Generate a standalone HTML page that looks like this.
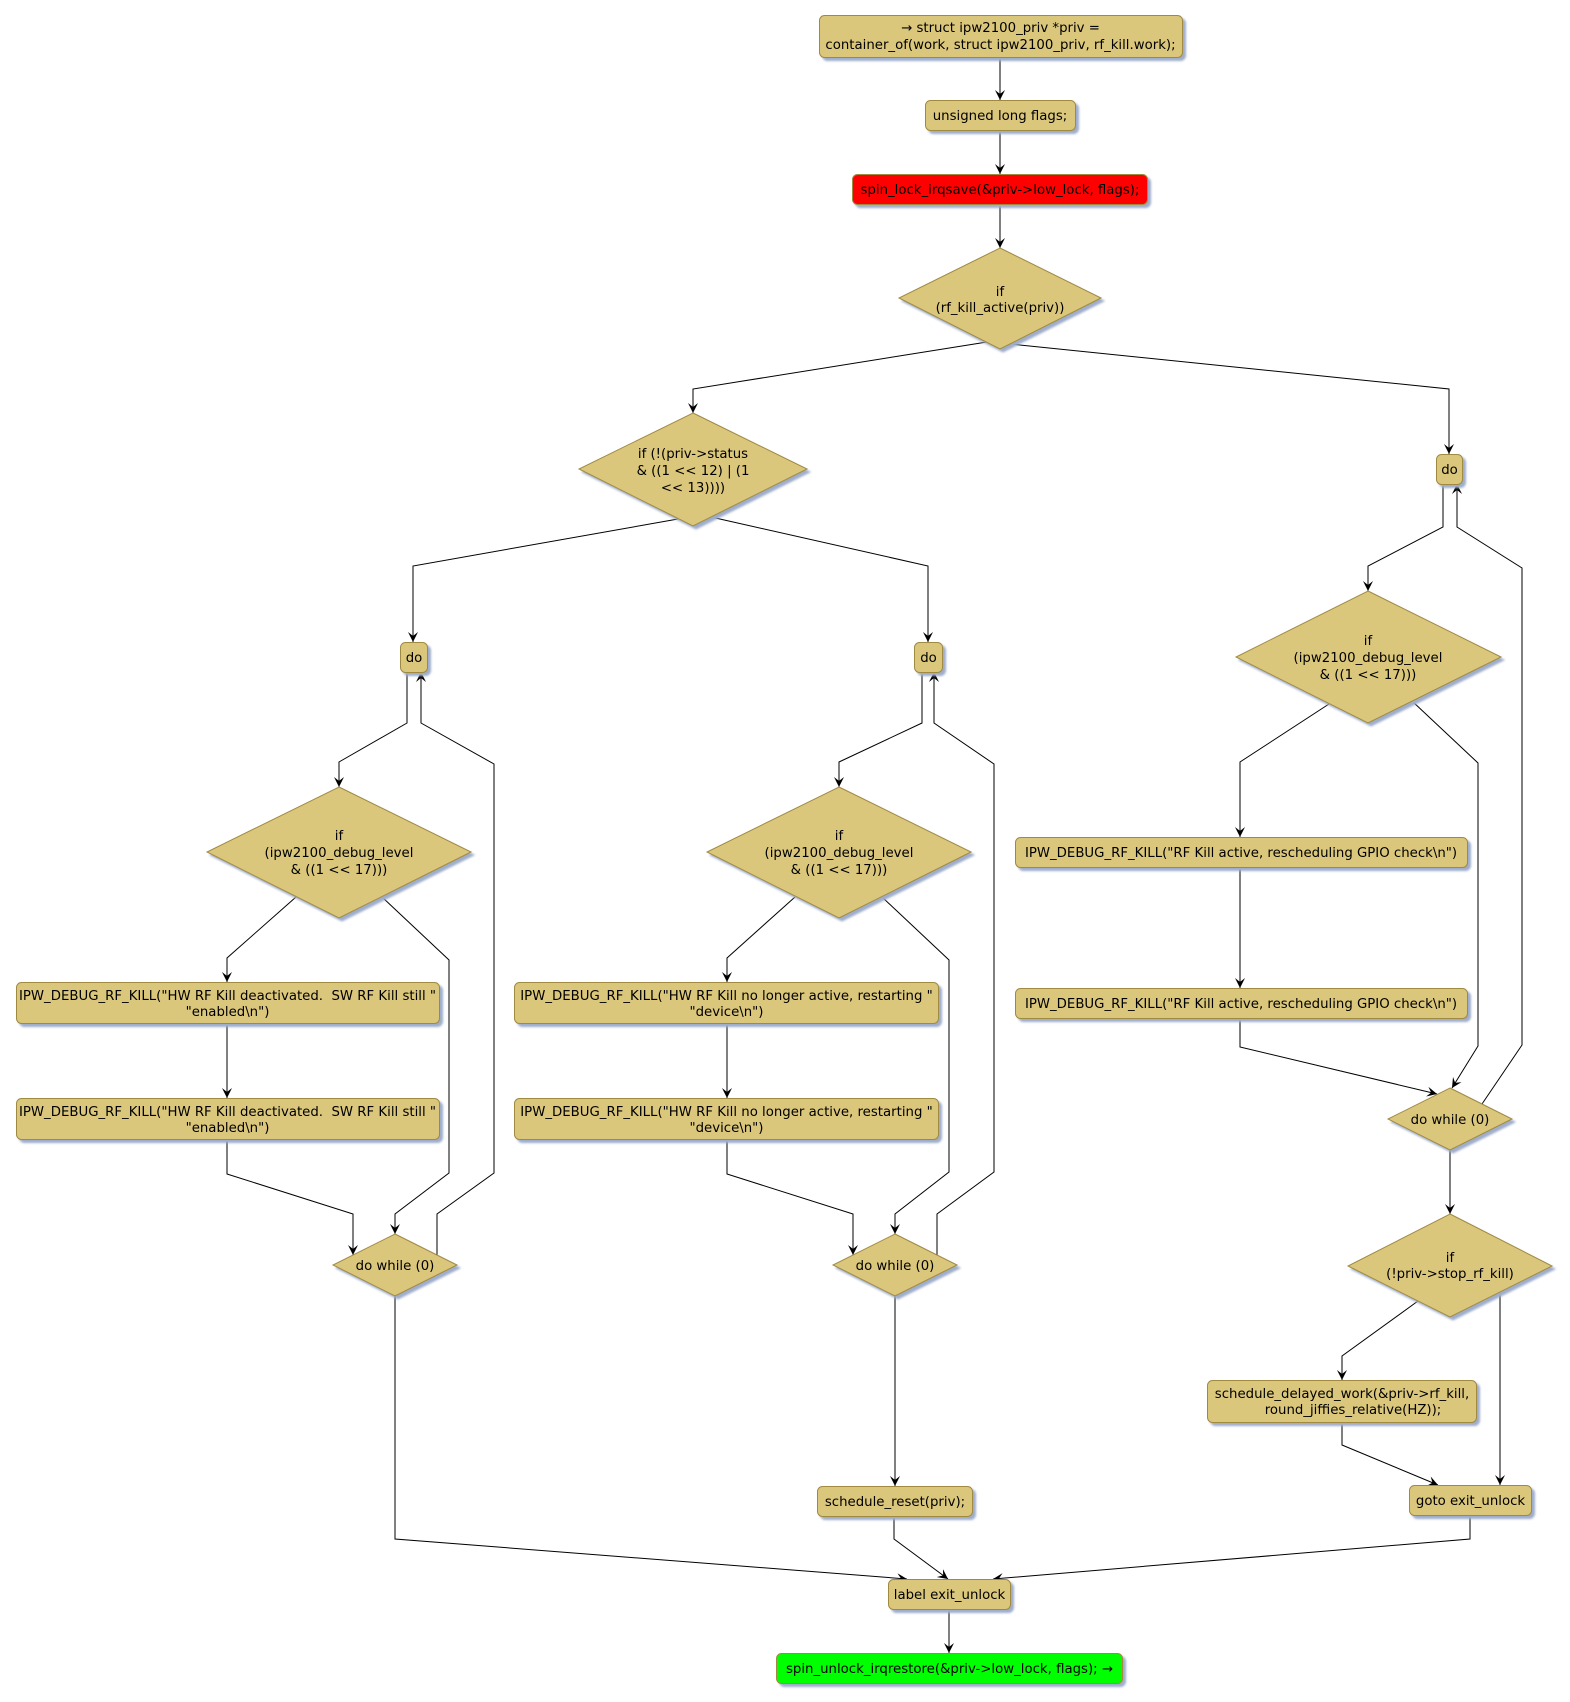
<!DOCTYPE html>
<html>
<head>
<meta charset="utf-8">
<style>
  html,body{margin:0;padding:0;background:#fff;}
  svg{display:block;}
  .n{fill:#DBC77C;stroke:#A08A42;stroke-width:1;filter:drop-shadow(3px 3px 1px #9EADCB);}
  .r{fill:#FF0000;stroke:#A08A42;stroke-width:1;filter:drop-shadow(3px 3px 1px #9EADCB);}
  .g{fill:#00FF00;stroke:#A08A42;stroke-width:1;filter:drop-shadow(3px 3px 1px #9EADCB);}
  .e{fill:none;stroke:#000;stroke-width:1;marker-end:url(#a);}
  text{font-family:"DejaVu Sans","Liberation Sans",sans-serif;font-size:13.3px;fill:#000;text-anchor:middle;white-space:pre;}
</style>
</head>
<body>
<svg width="1570" height="1702" viewBox="0 0 1570 1702" xmlns="http://www.w3.org/2000/svg">
<defs>
  <marker id="a" markerWidth="12" markerHeight="10" refX="10" refY="5" orient="auto" markerUnits="userSpaceOnUse" viewBox="0 0 12 10">
    <path d="M0,0 L10,5 L0,10 L4,5 Z" fill="#000"/>
  </marker>
</defs>

<!-- ===== EDGES ===== -->
<polyline class="e" points="1000,57 1000,100"/>
<polyline class="e" points="1000,130 1000,174"/>
<polyline class="e" points="1000,204 1000,248"/>
<polyline class="e" points="987,342 693,389 693,413"/>
<polyline class="e" points="1010,344 1449,389 1449,454"/>
<polyline class="e" points="678,519 413,566 413,642"/>
<polyline class="e" points="711,517 928,566 928,642"/>

<!-- left column -->
<polyline class="e" points="407,672 407,723 339,762 339,787"/>
<polyline class="e" points="437,1255 437,1214 494,1173 494,764 421,723 421,672"/>
<polyline class="e" points="296,897 227,958 227,982"/>
<polyline class="e" points="382,897 449,960 449,1173 395,1214 395,1234"/>
<polyline class="e" points="227,1023 227,1098"/>
<polyline class="e" points="227,1139 227,1174 353,1214 353,1255"/>
<polyline class="e" points="395,1296 395,1539 907,1579"/>

<!-- middle column -->
<polyline class="e" points="922,672 922,723 839,762 839,787"/>
<polyline class="e" points="937,1255 937,1214 994,1172 994,764 934,723 934,672"/>
<polyline class="e" points="795,897 727,958 727,982"/>
<polyline class="e" points="882,897 949,960 949,1172 895,1214 895,1234"/>
<polyline class="e" points="727,1023 727,1098"/>
<polyline class="e" points="727,1139 727,1174 853,1214 853,1255"/>
<polyline class="e" points="895,1296 895,1486"/>
<polyline class="e" points="894,1516 894,1539 948,1579"/>

<!-- right column -->
<polyline class="e" points="1443,484 1443,527 1368,566 1368,591"/>
<polyline class="e" points="1482,1104 1522,1045 1522,568 1457,527 1457,484"/>
<polyline class="e" points="1329,704 1240,762 1240,837"/>
<polyline class="e" points="1412,701 1478,763 1478,1046 1452,1088"/>
<polyline class="e" points="1240,867 1240,988"/>
<polyline class="e" points="1240,1018 1240,1047 1437,1094"/>
<polyline class="e" points="1450,1150 1450,1214"/>
<polyline class="e" points="1418,1301 1342,1356 1342,1380"/>
<polyline class="e" points="1500,1292 1500,1485"/>
<polyline class="e" points="1342,1422 1342,1445 1438,1485"/>
<polyline class="e" points="1470,1515 1470,1539 993,1579"/>
<polyline class="e" points="949,1609 949,1653"/>

<!-- ===== NODES ===== -->
<rect class="n" x="819.5" y="15.5" width="363" height="42" rx="5"/>
<text x="1000.5" y="32">→ struct ipw2100_priv *priv =</text>
<text x="1000.5" y="49">container_of(work, struct ipw2100_priv, rf_kill.work);</text>

<rect class="n" x="925.5" y="100.5" width="150" height="30" rx="5"/>
<text x="1000" y="120">unsigned long flags;</text>

<rect class="r" x="852.5" y="174.5" width="295" height="30" rx="5"/>
<text x="1000" y="194">spin_lock_irqsave(&amp;priv-&gt;low_lock, flags);</text>

<polygon class="n" points="1000,248 1101,298 1000,349 899,298"/>
<text x="1000" y="296">if</text>
<text x="1000" y="312">(rf_kill_active(priv))</text>

<polygon class="n" points="693,413 807,469 693,526 579,469"/>
<text x="693" y="458">if (!(priv-&gt;status</text>
<text x="693" y="475">&amp; ((1 &lt;&lt; 12) | (1</text>
<text x="693" y="492">&lt;&lt; 13))))</text>

<!-- do boxes -->
<rect class="n" x="400.5" y="642.5" width="27" height="30" rx="5"/>
<text x="414" y="662">do</text>
<rect class="n" x="914.5" y="642.5" width="28" height="30" rx="5"/>
<text x="928.5" y="662">do</text>
<rect class="n" x="1436.5" y="454.5" width="26" height="30" rx="5"/>
<text x="1449.5" y="474">do</text>

<!-- debug diamonds -->
<polygon class="n" points="339,787 471,852 339,918 207,852"/>
<text x="339" y="840">if</text>
<text x="339" y="857">(ipw2100_debug_level</text>
<text x="339" y="874">&amp; ((1 &lt;&lt; 17)))</text>

<polygon class="n" points="839,787 971,852 839,918 707,852"/>
<text x="839" y="840">if</text>
<text x="839" y="857">(ipw2100_debug_level</text>
<text x="839" y="874">&amp; ((1 &lt;&lt; 17)))</text>

<polygon class="n" points="1368,591 1501,657 1368,723 1236,657"/>
<text x="1368" y="645">if</text>
<text x="1368" y="662">(ipw2100_debug_level</text>
<text x="1368" y="679">&amp; ((1 &lt;&lt; 17)))</text>

<!-- left boxes -->
<rect class="n" x="16.5" y="982.5" width="423" height="41" rx="5"/>
<text x="227.5" y="1000">IPW_DEBUG_RF_KILL("HW RF Kill deactivated.  SW RF Kill still "</text>
<text x="227.5" y="1016">"enabled\n")</text>
<rect class="n" x="16.5" y="1098.5" width="423" height="41" rx="5"/>
<text x="227.5" y="1116">IPW_DEBUG_RF_KILL("HW RF Kill deactivated.  SW RF Kill still "</text>
<text x="227.5" y="1132">"enabled\n")</text>

<!-- middle boxes -->
<rect class="n" x="514.5" y="982.5" width="424" height="41" rx="5"/>
<text x="726.5" y="1000">IPW_DEBUG_RF_KILL("HW RF Kill no longer active, restarting "</text>
<text x="726.5" y="1016">"device\n")</text>
<rect class="n" x="514.5" y="1098.5" width="424" height="41" rx="5"/>
<text x="726.5" y="1116">IPW_DEBUG_RF_KILL("HW RF Kill no longer active, restarting "</text>
<text x="726.5" y="1132">"device\n")</text>

<!-- right boxes -->
<rect class="n" x="1015.5" y="837.5" width="452" height="30" rx="5"/>
<text x="1241" y="857">IPW_DEBUG_RF_KILL("RF Kill active, rescheduling GPIO check\n")</text>
<rect class="n" x="1015.5" y="988.5" width="452" height="30" rx="5"/>
<text x="1241" y="1008">IPW_DEBUG_RF_KILL("RF Kill active, rescheduling GPIO check\n")</text>

<!-- do while diamonds -->
<polygon class="n" points="395,1234 457,1265 395,1296 333,1265"/>
<text x="395" y="1270">do while (0)</text>
<polygon class="n" points="895,1234 957,1265 895,1296 833,1265"/>
<text x="895" y="1270">do while (0)</text>
<polygon class="n" points="1450,1088 1512,1119 1450,1150 1388,1119"/>
<text x="1450" y="1124">do while (0)</text>

<!-- stop_rf_kill -->
<polygon class="n" points="1450,1214 1552,1266 1450,1317 1348,1266"/>
<text x="1450" y="1262">if</text>
<text x="1450" y="1278">(!priv-&gt;stop_rf_kill)</text>

<rect class="n" x="1207.5" y="1380.5" width="269" height="42" rx="5"/>
<text x="1342" y="1398">schedule_delayed_work(&amp;priv-&gt;rf_kill,</text>
<text x="1353" y="1414">round_jiffies_relative(HZ));</text>

<rect class="n" x="1409.5" y="1485.5" width="122" height="30" rx="5"/>
<text x="1470.5" y="1505">goto exit_unlock</text>

<rect class="n" x="817.5" y="1486.5" width="155" height="30" rx="5"/>
<text x="895" y="1506">schedule_reset(priv);</text>

<rect class="n" x="888.5" y="1579.5" width="122" height="30" rx="5"/>
<text x="949.5" y="1599">label exit_unlock</text>

<rect class="g" x="776.5" y="1653.5" width="346" height="30" rx="5"/>
<text x="949.5" y="1673">spin_unlock_irqrestore(&amp;priv-&gt;low_lock, flags); →</text>
</svg>
</body>
</html>
